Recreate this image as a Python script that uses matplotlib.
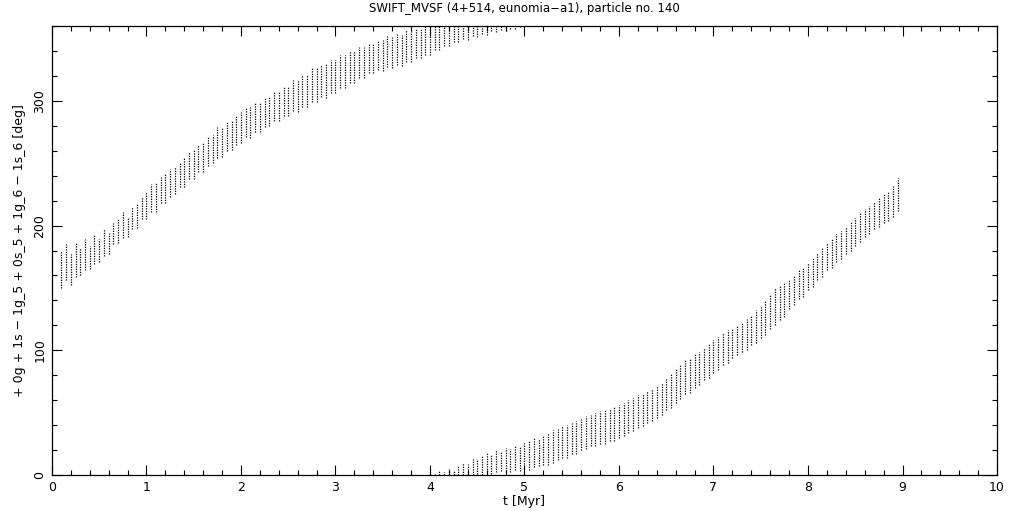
import numpy as np
import matplotlib
matplotlib.use('Agg')
import matplotlib.pyplot as plt
from matplotlib.ticker import MultipleLocator

# upper branch of the resonant angle (before wrapping through 360 deg)
t_up = [0.10, 0.15, 0.20, 0.25, 0.30, 0.35, 0.40, 0.45, 0.50, 0.55,
        0.60, 0.65, 0.70, 0.75, 0.80, 0.85, 0.90, 0.95, 1.00, 1.05,
        1.10, 1.15, 1.20, 1.25, 1.30, 1.35, 1.40, 1.45, 1.50, 1.55,
        1.60, 1.65, 1.70, 1.75, 1.80, 1.85, 1.90, 1.95, 2.00, 2.05,
        2.10, 2.15, 2.20, 2.25, 2.30, 2.35, 2.40, 2.45, 2.50, 2.55,
        2.60, 2.65, 2.70, 2.75, 2.80, 2.85, 2.90, 2.95, 3.00, 3.05,
        3.10, 3.15, 3.20, 3.25, 3.30, 3.35, 3.40, 3.45, 3.50, 3.55,
        3.60, 3.65, 3.70, 3.75, 3.80, 3.85, 3.90, 3.95, 4.00, 4.05,
        4.10, 4.15, 4.20, 4.25, 4.30, 4.35, 4.40, 4.45, 4.50, 4.55,
        4.60, 4.65, 4.70, 4.75, 4.80, 4.85, 4.90, 4.95]
lo_up = [150, 156, 152, 159, 160, 164, 165, 169, 171, 176,
         177, 185, 186, 190, 191, 197, 198, 205, 205, 211,
         211, 218, 218, 223, 225, 231, 231, 237, 237, 243,
         243, 248, 250, 254, 255, 260, 261, 265, 266, 271,
         270, 275, 275, 279, 280, 284, 284, 288, 288, 292,
         291, 295, 295, 299, 299, 303, 302, 306, 306, 310,
         310, 314, 314, 318, 318, 322, 322, 325, 324, 327,
         326, 329, 328, 331, 331, 334, 334, 337, 337, 341,
         341, 344, 344, 347, 347, 350, 349, 352, 351, 354,
         353, 356, 355, 357, 356, 358, 358, 359]
hi_up = [180, 185, 177, 187, 182, 189, 184, 193, 189, 197,
         194, 202, 205, 211, 207, 215, 217, 223, 227, 233,
         235, 239, 241, 245, 247, 251, 255, 259, 261, 265,
         267, 271, 273, 279, 279, 283, 285, 289, 291, 295,
         295, 299, 299, 303, 303, 308, 308, 312, 312, 317,
         317, 321, 321, 326, 326, 329, 330, 333, 333, 337,
         337, 340, 340, 343, 343, 346, 346, 349, 349, 352,
         351, 354, 353, 357, 356, 358, 358, 360, 360, 360,
         360, 360, 360, 360, 360, 360, 360, 360, 360, 360,
         360, 360, 360, 360, 360, 360, 360, 360]

# lower branch (after wrapping back to 0 deg)
t_lo = [4.00, 4.05, 4.10, 4.15, 4.20, 4.25, 4.30, 4.35, 4.40, 4.45,
        4.50, 4.55, 4.60, 4.65, 4.70, 4.75, 4.80, 4.85, 4.90, 4.95,
        5.00, 5.05, 5.10, 5.15, 5.20, 5.25, 5.30, 5.35, 5.40, 5.45,
        5.50, 5.55, 5.60, 5.65, 5.70, 5.75, 5.80, 5.85, 5.90, 5.95,
        6.00, 6.05, 6.10, 6.15, 6.20, 6.25, 6.30, 6.35, 6.40, 6.45,
        6.50, 6.55, 6.60, 6.65, 6.70, 6.75, 6.80, 6.85, 6.90, 6.95,
        7.00, 7.05, 7.10, 7.15, 7.20, 7.25, 7.30, 7.35, 7.40, 7.45,
        7.50, 7.55, 7.60, 7.65, 7.70, 7.75, 7.80, 7.85, 7.90, 7.95,
        8.00, 8.05, 8.10, 8.15, 8.20, 8.25, 8.30, 8.35, 8.40, 8.45,
        8.50, 8.55, 8.60, 8.65, 8.70, 8.75, 8.80, 8.85, 8.90, 8.95]
lo_lo = [0, 0, 0, 0, 0, 0, 0, 0, 0, 0,
         1, 0, 2, 1, 2, 3, 3, 2, 4, 3,
         5, 4, 6, 7, 8, 8, 10, 12, 14, 14,
         17, 17, 20, 21, 23, 23, 25, 25, 27, 27,
         30, 31, 34, 35, 38, 39, 42, 43, 46, 48,
         52, 54, 58, 61, 65, 66, 70, 72, 76, 78,
         82, 84, 88, 90, 94, 96, 99, 100, 104, 106,
         110, 112, 117, 120, 124, 127, 133, 136, 141, 143,
         148, 151, 156, 159, 164, 166, 171, 173, 177, 180,
         184, 187, 191, 193, 197, 199, 202, 204, 207, 212]
hi_lo = [2, 1, 3, 2, 5, 4, 8, 10, 9, 13,
         12, 16, 18, 17, 20, 19, 22, 21, 24, 23,
         26, 28, 30, 29, 32, 34, 36, 37, 39, 40,
         42, 43, 45, 47, 48, 50, 51, 52, 53, 55,
         56, 58, 60, 62, 64, 65, 67, 69, 71, 74,
         77, 81, 85, 89, 92, 94, 97, 99, 102, 105,
         108, 111, 114, 116, 118, 120, 122, 125, 128, 132,
         135, 140, 145, 150, 152, 154, 157, 160, 164, 167,
         170, 174, 178, 182, 186, 190, 193, 196, 199, 203,
         206, 210, 213, 216, 219, 222, 225, 228, 232, 238]

x_ticks = [0, 1, 2, 3, 4, 5, 6, 7, 8, 9, 10]
y_ticks = [0, 100, 200, 300]

fig = plt.figure(figsize=(10.21, 5.11), dpi=100)
ax = fig.add_axes([0.0509, 0.0705, 0.9256, 0.8785])

dots = (0, (1, 1))
ax.vlines(t_up, lo_up, hi_up, colors='black', linewidth=0.9, linestyles=dots)
ax.vlines(t_lo, lo_lo, hi_lo, colors='black', linewidth=0.9, linestyles=dots)

ax.set_xlim(0, 10)
ax.set_ylim(0, 360)
ax.set_xticks(x_ticks)
ax.set_yticks(y_ticks)
ax.xaxis.set_minor_locator(MultipleLocator(0.2))
ax.yaxis.set_minor_locator(MultipleLocator(20))
ax.tick_params(which='both', direction='in', top=True, right=True,
               labelsize=9, width=0.8, pad=4)
ax.tick_params(which='major', length=7)
ax.tick_params(which='minor', length=3.5)
for lab in ax.get_yticklabels():
    lab.set_rotation(90)
    lab.set_va('center')
for s in ax.spines.values():
    s.set_linewidth(0.9)

ax.set_xlabel('t [Myr]', fontsize=9, labelpad=1)
ax.set_ylabel('+ 0g + 1s \u2212 1g_5 + 0s_5 + 1g_6 \u2212 1s_6 [deg]', fontsize=9, labelpad=5)
ax.set_title('SWIFT_MVSF (4+514, eunomia\u2212a1), particle no. 140', fontsize=8.5, pad=10)

plt.savefig('out.png', dpi=100)
